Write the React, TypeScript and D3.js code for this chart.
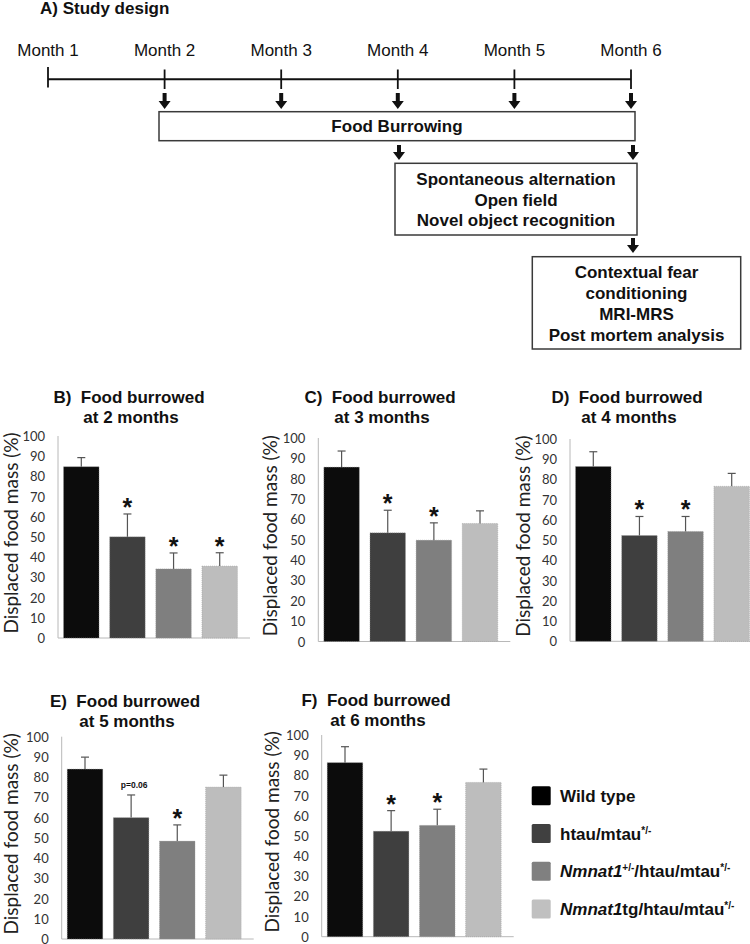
import React from "react";
import * as d3 from "d3";

// ---------- data ----------
const groups = ["Wild type", "htau/mtau", "Nmnat1+/-/htau/mtau", "Nmnat1tg/htau/mtau"];
const barColors = ["#0c0c0c", "#3f3f3f", "#7f7f7f", "#bdbdbd"];
const legendColors = ["#000000", "#404040", "#808080", "#c0c0c0"];
const monthLabels = ["Month 1", "Month 2", "Month 3", "Month 4", "Month 5", "Month 6"];
const yTicks = [0, 10, 20, 30, 40, 50, 60, 70, 80, 90, 100];

const meansB = [84.8, 50.1, 34.2, 35.6];
const semsB = [4.5, 11.3, 7.9, 6.6];
const marksB = ["", "*", "*", "*"];

const meansC = [85.7, 53.4, 49.8, 58.0];
const semsC = [7.9, 11.1, 8.5, 6.2];
const marksC = ["", "*", "*", ""];

const meansD = [86.4, 52.3, 54.3, 76.6];
const semsD = [7.3, 9.4, 7.4, 6.4];
const marksD = ["", "*", "*", ""];

const meansE = [84.0, 60.0, 48.4, 75.1];
const semsE = [5.9, 11.2, 8.0, 5.9];
const marksE = ["", "p=0.06", "*", ""];

const meansF = [86.3, 52.3, 55.2, 76.5];
const semsF = [7.9, 10.2, 8.0, 6.6];
const marksF = ["", "*", "*", ""];

const yLabel = "Displaced food mass (%)";
const boxFood = ["Food Burrowing"];
const boxBehaviour = ["Spontaneous alternation", "Open field", "Novel object recognition"];
const boxFinal = ["Contextual fear", "conditioning", "MRI-MRS", "Post mortem analysis"];

type Seg = { t: string; i?: boolean; sup?: boolean };
const legendLabels: Seg[][] = [
  [{ t: "Wild type" }],
  [{ t: "htau/mtau" }, { t: "*/-", sup: true }],
  [{ t: "Nmnat1", i: true }, { t: "+/-", sup: true }, { t: "/htau/mtau" }, { t: "*/-", sup: true }],
  [{ t: "Nmnat1", i: true }, { t: "tg/htau/mtau" }, { t: "*/-", sup: true }],
];

const ARIAL = "'Liberation Sans', Arial, Helvetica, sans-serif";
const CAL = "Lato, 'Open Sans', sans-serif";

function DownArrow({ x, y1, y2 }: { x: number; y1: number; y2: number }) {
  const headH = 8;
  const sw = 2;
  const hw = 6;
  const ys = y2 - headH;
  const d = `M${x - sw},${y1} L${x + sw},${y1} L${x + sw},${ys} L${x + hw},${ys} L${x},${y2} L${x - hw},${ys} L${x - sw},${ys} Z`;
  return <path d={d} fill="#111" />;
}

function Box({ x1, x2, y1, y2, lines, firstY, step }: { x1: number; x2: number; y1: number; y2: number; lines: string[]; firstY: number; step: number }) {
  return (
    <g>
      <rect x={x1} y={y1} width={x2 - x1} height={y2 - y1} fill="white" stroke="#3a3a3a" strokeWidth={1.5} />
      {lines.map((l, i) => (
        <text key={i} x={(x1 + x2) / 2} y={firstY + i * step} textAnchor="middle" dominantBaseline="central"
          fontFamily={ARIAL} fontWeight="bold" fontSize={17} fill="#111">{l}</text>
      ))}
    </g>
  );
}

type PanelProps = {
  letter: string; month: number; means: number[]; sems: number[]; marks: string[];
  axisX: number; yTop: number; yBottom: number; titleX: number; titleY: number; labelX: number;
};

function Panel({ letter, month, means, sems, marks, axisX, yTop, yBottom, titleX, titleY, labelX }: PanelProps) {
  const y = d3.scaleLinear().domain([0, 100]).range([yBottom, yTop]);
  const x = d3.scaleBand<string>().domain(groups).range([axisX, axisX + 185]).paddingInner(0.23).paddingOuter(0.12);
  const bw = x.bandwidth();
  const midY = (yTop + yBottom) / 2 - 4;
  return (
    <g>
      <text x={titleX} y={titleY} textAnchor="middle" dominantBaseline="central" fontFamily={ARIAL} fontWeight="bold" fontSize={17} fill="#111" style={{ whiteSpace: "pre" }}>
        {`${letter})  Food burrowed`}
      </text>
      <text x={titleX + 2} y={titleY + 20} textAnchor="middle" dominantBaseline="central" fontFamily={ARIAL} fontWeight="bold" fontSize={17} fill="#111">
        {`at ${month} months`}
      </text>
      <text transform={`translate(${labelX},${midY}) rotate(-90)`} textAnchor="middle" dominantBaseline="central"
        fontFamily={CAL} fontSize={19} fill="#222">{yLabel}</text>
      {yTicks.map((t) => (
        <text key={t} x={axisX - 13} y={y(t)} textAnchor="end" dominantBaseline="central" fontFamily={CAL} fontSize={13} fill="#333">{t}</text>
      ))}
      <line x1={axisX} x2={axisX} y1={yTop} y2={yBottom} stroke="#b8b8b8" strokeWidth={1} />
      <line x1={axisX} x2={axisX + 192} y1={yBottom} y2={yBottom} stroke="#b8b8b8" strokeWidth={1} />
      {groups.map((g, i) => {
        const bx = x(g) as number;
        const cx = bx + bw / 2;
        const top = y(means[i]);
        const eTop = y(means[i] + sems[i]);
        return (
          <g key={g}>
            <rect x={bx} y={top} width={bw} height={yBottom - top} fill={barColors[i]} stroke="#9a9a9a" strokeWidth={0.5} strokeDasharray="1,1" />
            <line x1={cx} x2={cx} y1={top} y2={eTop} stroke="#555" strokeWidth={1.2} />
            <line x1={cx - 4} x2={cx + 4} y1={eTop} y2={eTop} stroke="#555" strokeWidth={1.2} />
            {marks[i] === "*" && (
              <text x={cx} y={eTop + 2} textAnchor="middle" fontFamily={ARIAL} fontWeight="bold" fontSize={25} fill="#111">*</text>
            )}
            {marks[i] !== "*" && marks[i] !== "" && (
              <text x={cx + 3} y={eTop - 10} textAnchor="middle" dominantBaseline="central" fontFamily={ARIAL} fontWeight="bold" fontSize={8.5} fill="#111">{marks[i]}</text>
            )}
          </g>
        );
      })}
    </g>
  );
}

export default function App() {
  const mx = d3.scaleLinear().domain([1, 6]).range([48, 631]);
  const lineY = 79.3;
  return (
    <svg width={750} height={944} style={{ position: "absolute", left: 0, top: 0, background: "white" }}>
      <rect x={0} y={0} width={750} height={944} fill="white" />
      {/* A) Study design */}
      <text x={40} y={8} dominantBaseline="central" fontFamily={ARIAL} fontWeight="bold" fontSize={17} fill="#111">A) Study design</text>
      {monthLabels.map((m, i) => (
        <text key={m} x={mx(i + 1)} y={50} textAnchor="middle" dominantBaseline="central" fontFamily={ARIAL} fontSize={17} fill="#111">{m}</text>
      ))}
      <line x1={mx(1)} x2={mx(6)} y1={lineY} y2={lineY} stroke="#111" strokeWidth={2} />
      {monthLabels.map((m, i) => (
        <line key={m} x1={mx(i + 1)} x2={mx(i + 1)} y1={i === 0 ? 67 : 69.5} y2={i === 0 ? 87.5 : 89} stroke="#111" strokeWidth={1.8} />
      ))}
      {monthLabels.slice(1).map((m, i) => (
        <DownArrow key={m} x={mx(i + 2)} y1={93} y2={109} />
      ))}
      <Box x1={159} x2={635} y1={111.7} y2={140.7} lines={boxFood} firstY={126.7} step={0} />
      <DownArrow x={399} y1={145} y2={160} />
      <DownArrow x={633} y1={145} y2={160} />
      <Box x1={395} x2={637} y1={163.3} y2={235} lines={boxBehaviour} firstY={179.5} step={20.7} />
      <DownArrow x={633} y1={238} y2={253} />
      <Box x1={532.3} x2={740.7} y1={256.7} y2={349} lines={boxFinal} firstY={272} step={21} />

      <Panel letter="B" month={2} means={meansB} sems={semsB} marks={marksB} axisX={58} yTop={436} yBottom={638} titleX={129} titleY={397} labelX={10} />
      <Panel letter="C" month={3} means={meansC} sems={semsC} marks={marksC} axisX={318.3} yTop={438} yBottom={641.5} titleX={380} titleY={397} labelX={269} />
      <Panel letter="D" month={4} means={meansD} sems={semsD} marks={marksD} axisX={570} yTop={439} yBottom={641.3} titleX={627} titleY={397} labelX={522} />
      <Panel letter="E" month={5} means={meansE} sems={semsE} marks={marksE} axisX={61.7} yTop={736.7} yBottom={939} titleX={125} titleY={701.7} labelX={10} />
      <Panel letter="F" month={6} means={meansF} sems={semsF} marks={marksF} axisX={321.7} yTop={735} yBottom={936.7} titleX={376} titleY={700} labelX={271} />

      {/* legend */}
      {legendLabels.map((segs, i) => {
        const cy = 795.7 + i * 37.8;
        const children: React.ReactNode[] = [];
        let raised = false;
        segs.forEach((s, k) => {
          let dy = 0;
          if (s.sup && !raised) { dy = -6; raised = true; }
          else if (!s.sup && raised) { dy = 6; raised = false; }
          children.push(
            <tspan key={k} dy={dy} fontStyle={s.i ? "italic" : "normal"} fontSize={s.sup ? 10 : 17}>{s.t}</tspan>
          );
        });
        return (
          <g key={i}>
            <rect x={531.7} y={cy - 9.5} width={19} height={19} rx={1.5} fill={legendColors[i]} />
            <text x={560} y={cy + 6} fontFamily={ARIAL} fontWeight="bold" fontSize={17} fill="#111">{children}</text>
          </g>
        );
      })}
    </svg>
  );
}
